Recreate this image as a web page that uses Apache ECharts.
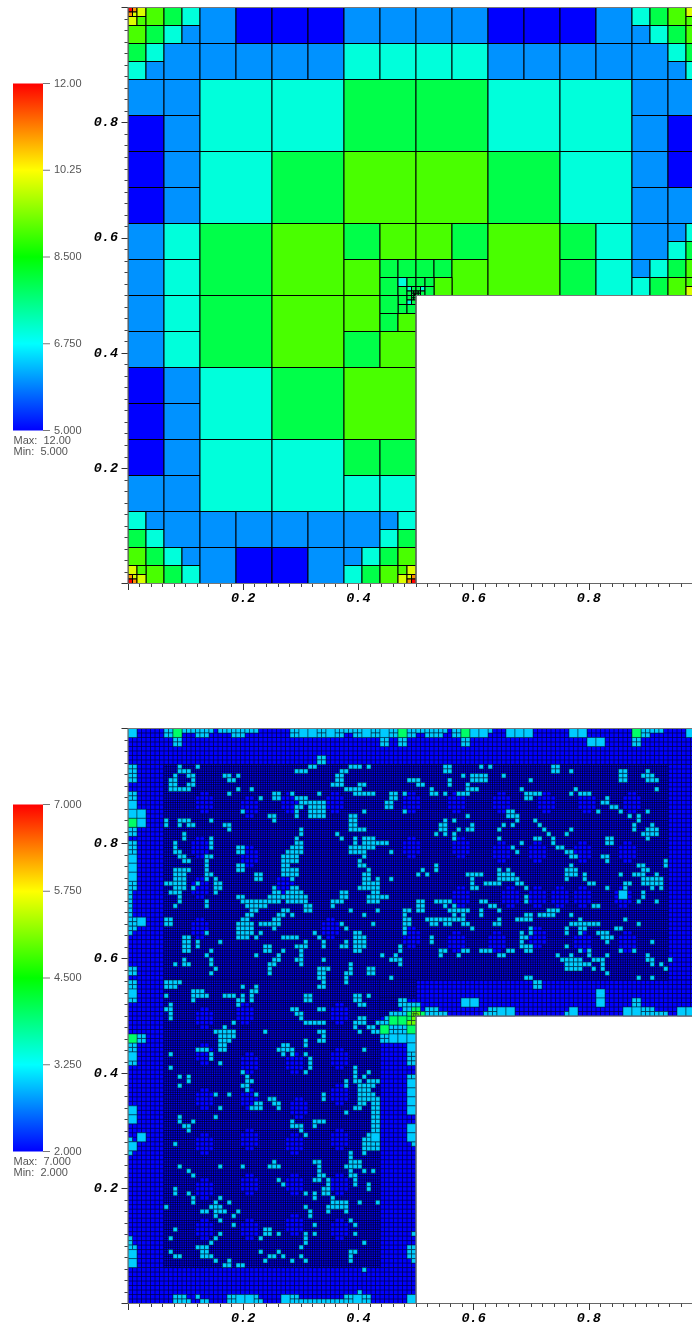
<!DOCTYPE html>
<html><head><meta charset="utf-8">
<style>html,body{margin:0;padding:0;background:#fff}#c{width:692px;height:1330px}</style>
<script src="https://cdn.jsdelivr.net/npm/echarts@6/dist/echarts.min.js"></script></head>
<body><div id="c"></div>
<script>
// ---- tick labels
const xTickLabels = ['0.2','0.4','0.6','0.8'];
const barLabelsA = ['5.000','6.750','8.500','10.25','12.00'];
const barLabelsB = ['2.000','3.250','4.500','5.750','7.000'];
const rangeA = [5,12];
const rangeB = [2,7];
const rainbow = [[0,0,255],[0,255,255],[0,255,0],[255,255,0],[255,0,0]];
const domainOutline = [[0,0],[.5,0],[.5,.5],[1,.5],[1,1],[0,1],[0,0]];
const meshDivisions = 128;
const xVisibleMax = 564/576;

// ---- upper field: mesh elements [column, row from top, size, value], in 1/128 units
const cellsA = [
[0,0,1,12],[1,0,1,11],[0,1,1,11],[1,1,1,10],[2,0,2,10],[0,2,2,10],[2,2,2,9],
[4,0,4,9],[0,4,4,9],[4,4,4,8],[8,0,4,8],[12,0,4,7],[8,4,4,7],[12,4,4,6],
[0,8,4,8],[4,8,4,7],[0,12,4,7],[4,12,4,6],[8,8,8,6],
[16,0,8,6],[24,0,8,5],[32,0,8,5],[40,0,8,5],[48,0,8,6],[56,0,8,6],[64,0,8,6],[72,0,8,6],[80,0,8,5],[88,0,8,5],[96,0,8,5],[104,0,8,6],
[16,8,8,6],[24,8,8,6],[32,8,8,6],[40,8,8,6],[48,8,8,7],[56,8,8,7],[64,8,8,7],[72,8,8,7],[80,8,8,6],[88,8,8,6],[96,8,8,6],[104,8,8,6],
[112,0,4,7],[116,0,4,8],[120,0,4,9],[124,0,2,10],[124,2,2,9],
[112,4,4,6],[116,4,4,7],[120,4,4,8],[124,4,4,9],
[112,8,8,6],[120,8,4,7],[124,8,4,8],[120,12,4,6],[124,12,4,7],
[0,16,8,6],[8,16,8,6],[0,24,8,5],[8,24,8,6],[0,32,8,5],[8,32,8,6],[0,40,8,5],[8,40,8,6],
[16,16,16,7],[32,16,16,7],[16,32,16,7],[32,32,16,8],
[48,16,16,8],[64,16,16,8],[80,16,16,7],[96,16,16,7],
[48,32,16,9],[64,32,16,9],[80,32,16,8],[96,32,16,7],
[112,16,8,6],[120,16,8,6],[112,24,8,6],[120,24,8,5],[112,32,8,6],[120,32,8,5],[112,40,8,6],[120,40,8,6],
[0,48,8,6],[8,48,8,7],[0,56,8,6],[8,56,8,7],[16,48,16,8],[32,48,16,9],
[48,48,8,8],[56,48,8,9],[64,48,8,9],[72,48,8,8],[48,56,8,9],
[56,56,4,8],[60,56,4,8],[64,56,4,8],[68,56,4,8],[72,56,8,9],[56,60,4,8],[68,60,4,9],
[60,60,2,7],[62,60,2,8],[60,62,2,8],[62,62,1,7],[63,62,1,8],[62,63,1,8],
[63,63,.5,8],[63.5,63,.5,8],[63,63.5,.5,8],[63.5,63.5,.25,8],[63.75,63.5,.25,8],[63.5,63.75,.25,8],[63.75,63.75,.25,8],
[64,60,2,8],[66,60,2,8],[64,62,1,8],[65,62,1,7],[64,63,.5,8],[64.5,63,.5,8],[64,63.5,.5,8],[64.5,63.5,.5,8],[65,63,1,8],[66,62,2,8],
[60,64,2,8],[62,64,1,8],[63,64,.5,8],[63.5,64,.5,8],[63,64.5,.5,8],[63.5,64.5,.5,8],[62,65,1,7],[63,65,1,8],[60,66,2,8],[62,66,2,8],
[80,48,16,9],[96,48,8,8],[104,48,8,7],[96,56,8,8],[104,56,8,7],
[112,48,8,6],[120,48,4,6],[124,48,4,7],[120,52,4,7],[124,52,4,8],
[112,56,4,6],[116,56,4,7],[120,56,4,8],[124,56,4,9],
[112,60,4,7],[116,60,4,8],[120,60,4,9],[124,60,2,9],[124,62,2,10],
[0,64,8,6],[8,64,8,7],[0,72,8,6],[8,72,8,7],[16,64,16,8],[32,64,16,9],
[48,64,8,9],[56,64,4,8],[56,68,4,8],[60,68,4,9],[48,72,8,8],[56,72,8,9],
[0,80,8,5],[8,80,8,6],[0,88,8,5],[8,88,8,6],[16,80,16,7],[32,80,16,8],[48,80,16,9],
[0,96,8,5],[8,96,8,6],[0,104,8,6],[8,104,8,6],[16,96,16,7],[32,96,16,7],[48,96,8,8],[56,96,8,8],[48,104,8,7],[56,104,8,7],
[0,112,4,7],[4,112,4,6],[0,116,4,8],[4,116,4,7],[8,112,8,6],[16,112,8,6],[24,112,8,6],[32,112,8,6],[40,112,8,6],[48,112,8,6],[56,112,4,6],[60,112,4,7],[56,116,4,7],[60,116,4,8],
[0,120,4,9],[4,120,4,8],[8,120,4,7],[12,120,4,6],[4,124,4,9],[8,124,4,8],[12,124,4,7],[16,120,8,6],[24,120,8,5],[32,120,8,5],[40,120,8,6],
[48,120,4,6],[52,120,4,7],[48,124,4,7],[52,124,4,8],[56,120,4,8],[60,120,4,9],[56,124,4,9],
[0,124,2,10],[2,124,2,9],[0,126,1,11],[1,126,1,10],[0,127,1,12],[1,127,1,11],[2,126,2,10],
[60,124,2,9],[62,124,2,10],[60,126,2,10],[62,126,1,10],[63,126,1,11],[62,127,1,11],[63,127,1,12]
];

// ---- lower field: background mesh zones [column, row, width, height, element size] at the base value
const baseValueB = 2;
const coarseZonesB = [[0,0,128,8,1],[0,8,8,112,1],[0,120,64,8,1],[56,64,8,56,1],[120,8,8,48,1],[64,56,64,8,1],[60,60,4,4,1]];
const fineZonesB = [[8,8,112,48,.5],[8,56,48,64,.5],[56,56,8,4,.5],[56,60,4,4,.5]];
// round patches of larger elements inside the fine zone [centre column, centre row]
const patchesB = [
[16.5,16.5],[26.7,17],[36,16.6],[45.6,16],[63.4,16.4],[73.4,16.6],[83,16.4],[92.7,16.6],[101.9,16.6],[111.5,16],
[16.4,26],[27,28],[63.4,26],[73.8,26.5],[82.7,27.2],[91.2,27],[101.2,27],[111.2,27],
[16,35],[34.5,34.4],[74,37.4],[84.9,37],[91,37],[96,37],[101,37],[110.4,37],
[16,44.8],[45,44.8],[63.4,46.6],[73.4,47],[82.3,47.4],[91.2,46.6],[101.2,47.4],[111.2,47.4],
[16.5,64],[26,63.7],[46.7,63.7],
[16.7,72.9],[26.7,74],[36.7,74],[46.7,73.3],
[16.7,82.9],[27.1,82.6],[37.5,84.8],[46.7,81.8],
[16.7,92.6],[26.7,91.8],[37.1,92.6],[46.7,91.8],
[16.9,102.2],[26.7,101.4],[37.1,101.4],[46.7,101.4],
[16.9,111],[26.7,111],[37.1,110.3],[46.7,111]
];
const patchRowWidths = [2,4,4,4,2];
// raised elements of value 3: [row, column, column, ...]
const raisedRowsB = [
[0,8,9,12,13,14,15,16,17,18,20,21,22,23,24,25,26,27,28,36,37,42,43,46,47,48,49,50,51,54,55,58,59,62,63,64,65,66,67,68,69,70,72,73,80,114,115,116,117,118],
[1,8,9,15,16,17,23,24,25,36,37,42,43,46,47,50,51,54,55,58,59,62,63,66,67,68,69,72,73,114,115],
[2,10,11,56,57,60,61,74,75,112,113],[3,10,11,56,57,60,61,74,75,112,113],
[6,42,43],[7,42,43],
[8,0,1,11,15,40,41,49,50,51,53,70,71,78,80,94,95],
[9,0,1,11,12,13,37,38,39,47,48,70,71,94,95,98,109,110,115],
[10,0,1,10,13,14,21,22,24,46,47,74,76,77,78,79,83,109,110,114,115,116],
[11,0,1,9,10,14,22,23,46,47,62,63,64,71,76,77,78,79,89,109,110,115,116,117],
[12,9,10,13,14,45,46,47,51,52,64,65,71,75],
[13,9,10,11,12,13,24,27,48,49,50,51,67,75,76,77,87,99,117],
[14,0,1,22,32,33,36,42,50,51,52,53,54,58,59,61,67,68,70,73,74,75,88,89,90,91,98,100,101,102],
[15,0,1,29,32,33,37,38,39,58,59,88,89,106],
[16,38,39,40,41,42,43,57,58,105,106],
[17,37,38,40,41,42,43,57,58,107,108],
[18,25,37,40,41,42,43,52,61,84,85,104,109,115],
[19,31,32,37,40,41,42,43,49,50,75,84,85,86,111,113],
[20,8,11,12,13,18,32,49,50,70,72,86,90,113],
[21,8,11,13,14,21,22,49,50,69,70,76,83,85,91,112,116],
[22,0,1,22,38,49,50,51,52,69,70,73,75,76,82,92,98,112,115,116,117],
[23,0,1,12,38,46,68,70,72,93,97,114,115,116,117],
[24,12,18,37,47,50,52,53,54,72,82,90,91,94,106,107,115],
[25,0,1,10,18,37,38,50,52,53,54,55,56,57,87,94,106,107],
[26,0,1,10,18,24,25,36,37,38,49,50,51,52,53,54,85,95,96],
[27,0,1,10,11,24,25,35,36,37,38,49,50,51,52,58,86,97,98],
[28,11,12,17,18,34,35,36,37,52,98,99,105,106],
[29,12,13,17,34,35,36,37,51,106,119],
[30,17,24,25,34,35,51,52,68,98,113,114,119],
[31,10,11,12,13,17,24,25,34,35,36,37,53,65,68,82,84,97,98,99,114,115],
[32,10,11,12,17,18,28,29,34,35,36,37,52,53,64,66,75,76,77,78,82,83,84,85,97,98,99,101,109,112,113,114,117],
[33,10,11,12,17,19,28,29,36,52,53,55,58,76,82,83,84,85,86,97,101,114,115,116,117,118],
[34,0,1,8,9,10,11,12,15,19,20,52,53,54,55,76,79,80,81,82,86,87,102,103,110,111,114,115,116,117,118],
[35,0,1,10,11,12,14,19,20,32,36,37,51,52,53,54,55,76,77,88,106,110,116,118],
[36,0,9,10,11,19,32,33,35,36,37,38,47,48,54,55,114],
[37,0,11,24,25,31,32,33,34,35,36,37,38,39,47,48,53,54,55,56,57,88,114],
[38,0,11,17,25,26,27,28,29,30,31,32,33,35,36,37,38,39,45,46,47,53,54,55,64,65,68,69,70,71,78,79,88,113,117],
[39,0,10,17,26,27,28,29,30,39,40,45,64,65,70,72,80,81,103,104],
[40,0,27,28,34,35,39,40,49,55,61,62,64,65,71,72,73,74,75,78,82,93,94,95],
[41,0,26,27,33,34,36,52,61,72,74,78,88,89,91,92,93,94,98],
[42,0,1,8,9,25,26,32,33,61,62,66,67,68,69,70,71,72,73,74,82,86,87,88,89,100,110],
[43,0,1,8,9,24,25,26,27,29,30,31,32,33,47,54,61,62,67,68,70,71,74,75,81,82,98,99,100,101,102,103,104,113],
[44,0,1,24,25,26,27,32,48,61,76,89,97,100,101,108,109],
[45,0,17,24,25,26,27,29,41,50,51,61,87,89,97,100,104,105,106],
[46,12,13,24,25,26,28,34,35,36,37,42,50,51,52,67,87,88,105,106,107],
[47,12,13,15,20,39,43,48,50,51,52,67,87,106,116],
[48,12,13,15,30,31,37,38,39,43,47,48,50,51,52,60,87,88,89,97],
[49,12,13,18,30,31,34,38,50,51,60,69,70,74,75,78,79,80,84,85,88,89,100,102,109,112],
[50,17,28,33,38,56,59,69,73,82,83,95,98,102,106,115],
[51,12,18,32,33,37,38,43,58,59,60,96,97,98,99,100,103,104,105,115,116,120],
[52,10,12,13,18,31,32,38,49,60,97,98,99,100,101,102,105,116,118],
[53,0,1,19,31,42,43,44,49,53,54,97,98,99,100,103,105,119],
[54,0,1,18,31,42,43,48,49,53,54,106],
[55,42,43,48,58,88,89,113,116],
[56,0,1,8,9,10,11,43,48,90,91],
[57,0,1,8,9,10,25,28,42,43,90,91],
[58,14,15,16,27,28],
[59,8,14,15,16,17,21,22,23,25,27,39,40,50,51,53],
[60,0,1,14,24,25,27,39,40,50,51,60,61,112,113],
[61,9,24,51,52,60,61,62,63,64,112,113],
[62,8,9,36,37,42,43,61,62,66,67,68,80,81,114,115,116],
[63,9,37,38,58,59,60,61,62,66,67,68,69,70,79,80,81,97,114,115,116,117,118,119],
[64,9,38,51,52,57],
[65,23,39,40,41,42,43,50,51,52,55,56,57],
[66,21,50,53,54,58,59,60,61],
[67,19,20,21,22,23,30,42,43,51,54,55,58,59,60,61],
[68,2,3,20,21,22,23,43,56,57],
[69,2,3,20,21,22,39,42,43,56,57],
[70,0,1,20,21,34,35,39],
[71,0,1,15,16,17,20,21,33,34,35,36,52],
[72,9,18,34,36,39,62,63],
[73,18,40,62,63],
[74,0,1,20,40,62,63],
[75,9,40,50],
[76,25,39,50,53],
[77,11,13,26,50,52,62,63],
[78,13,26,27,48,50,51,53,54,55],
[79,11,25,26,48,51,52,53,54],
[80,26,51,52,53],
[81,19,22,28,43,51,52,53,54],
[82,31,32,43,51,52,53,54,55],
[83,28,29,32,33,51,52,54,55],
[84,20,27,28,29,33,50,51,54,55],
[85,48,54,55],
[86,11,19,54,55],
[87,11,14,36,41,42,43,54,55],
[88,12,13,36,37,38,41,54,55],
[89,13,38,54,55],
[90,39,53],
[91,0,52,53],
[92,10,52,53,54,55,63],
[93,52,53,54,55],
[94,0,49,52],
[95,49],
[96,32,41,42,49,50,51],
[97,11,20,25,31,32,33,42,48,49,50,51],
[98,13,42,49,52,54],
[99,14,42,43,49,50],
[100,33,41,42,44,50],
[101,34,44,50,53],
[102,10,43,44,53],
[103,10,13,39,41,43,44],
[104,14,20,41,45],
[105,14,19,22,45,46,47,48,51,55],
[106,8,18,19,20,39,44,45,46,47,48],
[107,16,17,19,20,21,24,40,44,48],
[108,19,23,40],
[109,20,49],
[110,23,41,50],
[111,10,30,31],
[112,20,30,31,33,39,41,50,63],
[113,0,9,19,29,39],
[114,0,18,39,52],
[115,0,1,15,16,17,38,62,63],
[116,9,16,17,29,33,49,50,62,63],
[117,10,11,16,17,18,31,32,34,38,49,62,63],
[118,19,22,30,36,39,49,63],
[119,21,22,24,25],
[120,52],
[125,51],
[126,10,11,12,15,22,23,28,36,37,48,49,52,53],
[127,10,11,12,13,16,17,22,23,28,29,36,37,38,39,40,41,42,43,44,45,46,47,48,49,52,53]
];
// larger and strong elements [column, row, size, value]
const strongCellsB = [
[0,0,2,3],[10,0,2,4],[38,0,2,3],[40,0,2,3],[44,0,2,3],[52,0,2,3],[56,0,2,3],[60,0,2,4],[74,0,2,4],[76,0,2,3],[78,0,2,3],
[84,0,2,3],[86,0,2,3],[88,0,2,3],[98,0,2,3],[100,0,2,3],[102,2,2,3],[104,2,2,3],[112,0,2,4],[124,0,2,3],
[0,16,2,3],[0,18,2,3],[2,18,2,3],[0,20,2,4],[2,20,2,3],[0,28,2,3],[0,30,2,3],[0,32,2,3],
[2,42,2,3],[109,36,2,3],[74,60,2,3],[76,60,2,3],[104,58,2,3],[104,60,2,3],
[82,62,2,3],[84,62,2,3],[98,62,2,3],[110,62,2,3],[112,62,2,3],[122,62,2,3],[124,62,2,3],
[58,64,2,4],[60,64,2,4],[56,66,2,4],[62,66,2,4],
[58,68,2,3],[60,68,2,3],[62,68,2,3],[62,70,2,3],[0,58,2,3],[0,68,2,4],[0,72,2,3],
[62,78,2,3],[62,80,2,3],[62,82,2,3],[62,84,2,3],[0,84,2,3],[0,86,2,3],[62,88,2,3],[62,90,2,3],
[54,90,2,3],[2,90,2,3],[0,92,2,3],[0,116,2,3],[0,118,2,3],
[24,126,2,3],[26,126,2,3],[34,126,2,3],[50,126,2,3],[62,126,2,3],
[62,64,1,4],[63,64,1,5],[62,65,1,5],[63,65,1,5],[63,63,1,5],[62,63,1,4],[63,62,1,4],[64,62,1,4],[64,63,1,5],[65,63,1,4],
[63.5,63,.5,5],[63,63.5,.5,5],[63.5,63.5,.5,5],[64,63.5,.5,5]
];

// ---- helpers
function rgbOf(v, range){
  const t = Math.max(0, Math.min(1, (v-range[0])/(range[1]-range[0]))) * (rainbow.length-1);
  const k = Math.min(rainbow.length-2, Math.floor(t)), f = t-k;
  const a = rainbow[k], b = rainbow[k+1];
  return 'rgb('+a.map((c,n)=>Math.round(c+(b[n]-c)*f)).join(',')+')';
}
const toData = c => [c[0]/meshDivisions, 1-c[1]/meshDivisions, c[2]/meshDivisions, c[3]];

const patchCellsB = [];
patchesB.forEach(p=>{
  patchRowWidths.forEach((w,r)=>{
    const j0 = Math.round(p[1]-patchRowWidths.length/2)+r;
    const i0 = Math.round(p[0]-w/2);
    for(let k=0;k<w;k++) patchCellsB.push([i0+k,j0,1,baseValueB]);
  });
});
const raisedCellsB = [];
raisedRowsB.forEach(r=>r.slice(1).forEach(i=>raisedCellsB.push([i,r[0],1,3])));

function cellSeries(cells, range, gridIndex, z, stroke, lineWidth){
  return {
    type:'custom', xAxisIndex:gridIndex, yAxisIndex:gridIndex, z, silent:true, animation:false, progressive:0,
    clip:true, data:cells.map(toData),
    renderItem(params, api){
      const x=api.value(0), y=api.value(1), s=api.value(2), v=api.value(3);
      const a=api.coord([x,y]), b=api.coord([x+s,y-s]);
      return {type:'rect', shape:{x:a[0],y:a[1],width:b[0]-a[0],height:b[1]-a[1]},
        style:{fill:rgbOf(v,range), stroke, lineWidth}};
    }
  };
}
function zoneSeries(zones, gridIndex, z, fill, stroke, lineWidth){
  return {
    type:'custom', xAxisIndex:gridIndex, yAxisIndex:gridIndex, z, silent:true, animation:false, progressive:0,
    clip:true,
    data:zones.map(q=>[q[0]/meshDivisions, 1-q[1]/meshDivisions, q[2]/meshDivisions, q[3]/meshDivisions, q[4]/meshDivisions]),
    renderItem(params, api){
      const x=api.value(0), y=api.value(1), w=api.value(2), h=api.value(3), c=api.value(4);
      const a=api.coord([x,y]), b=api.coord([x+w,y-h]);
      const children=[{type:'rect', shape:{x:a[0],y:a[1],width:b[0]-a[0],height:b[1]-a[1]}, style:{fill}}];
      const nx=Math.round(w/c), ny=Math.round(h/c);
      for(let k=0;k<=nx;k++){const p=api.coord([x+k*c,y]); children.push({type:'line',shape:{x1:p[0],y1:a[1],x2:p[0],y2:b[1]},style:{stroke,lineWidth}});}
      for(let k=0;k<=ny;k++){const p=api.coord([x,y-k*c]); children.push({type:'line',shape:{x1:a[0],y1:p[1],x2:b[0],y2:p[1]},style:{stroke,lineWidth}});}
      return {type:'group', children};
    }
  };
}
function outlineSeries(gridIndex){
  return {type:'line', xAxisIndex:gridIndex, yAxisIndex:gridIndex, z:9, silent:true, animation:false, symbol:'none',
    clip:false, data:domainOutline, lineStyle:{color:'#777', width:1.2}};
}
function barSeries(gridIndex){
  return {type:'custom', xAxisIndex:gridIndex, yAxisIndex:gridIndex, silent:true, animation:false, z:2, clip:false,
    data:[[0,0,1,4]],
    renderItem(params, api){
      const a=api.coord([api.value(0),api.value(3)]), b=api.coord([api.value(2),api.value(1)]);
      const children=[{type:'rect', shape:{x:a[0],y:a[1],width:b[0]-a[0],height:b[1]-a[1]},
        style:{fill:new echarts.graphic.LinearGradient(0,1,0,0,rainbow.map((c,n)=>({offset:n/(rainbow.length-1),color:'rgb('+c.join(',')+')'})))}}];
      for(let k=0;k<rainbow.length;k++){
        const p=api.coord([1,k]);
        children.push({type:'line',shape:{x1:p[0],y1:p[1],x2:p[0]+7,y2:p[1]},style:{stroke:'#777',lineWidth:1}});
      }
      return {type:'group',children};
    }};
}

const plotFont = {fontFamily:'"Liberation Mono"', fontWeight:'bold', fontStyle:'italic', fontSize:13.5, color:'#000'};
const plotLabel = {...plotFont, formatter:v=>{const s=v.toFixed(1); return xTickLabels.includes(s)?s:'';}};
function plotAxis(gridIndex, isX){
  return {type:'value', gridIndex, min:0, max:isX?xVisibleMax:1, interval:.2, position:isX?'bottom':'left',
    axisLine:{show:true, onZero:false, lineStyle:{color:'#666',width:1.2}},
    axisTick:{show:true, length:6.5, inside:false, lineStyle:{color:'#333',width:1}},
    minorTick:{show:true, splitNumber:10, length:3.5, lineStyle:{color:'#444',width:1}},
    splitLine:{show:false}, axisLabel:{...plotLabel, margin:isX?8:10, showMinLabel:false, showMaxLabel:false}};
}
function barXAxis(gridIndex){return {type:'value', gridIndex, min:0, max:1, show:false};}
function barYAxis(gridIndex, labels){
  return {type:'value', gridIndex, min:0, max:4, interval:1, position:'right',
    axisLine:{show:false, onZero:false}, axisTick:{show:false}, splitLine:{show:false},
    axisLabel:{margin:11, color:'#555', fontFamily:'"Liberation Sans"', fontSize:11, formatter:(v)=>labels[Math.round(v)]}};
}
const rangeText = (t,top)=>({type:'text', left:13.5, top, silent:true, z:20,
  style:{text:t, fill:'#555', font:'11px "Liberation Sans"'}});

const chart = echarts.init(document.getElementById('c'), null, {renderer:'canvas', width:692, height:1330});
chart.setOption({
  animation:false, backgroundColor:'#fff',
  grid:[
    {left:128, top:7.5, width:564, height:576},
    {left:128, top:728.5, width:564, height:575},
    {left:13, top:83.5, width:30, height:347},
    {left:13, top:804.5, width:30, height:347}
  ],
  xAxis:[plotAxis(0,true), plotAxis(1,true), barXAxis(2), barXAxis(3)],
  yAxis:[plotAxis(0,false), plotAxis(1,false), barYAxis(2,barLabelsA), barYAxis(3,barLabelsB)],
  graphic:[rangeText('Max:  12.00',435.5),rangeText('Min:  5.000',446.5),rangeText('Max:  7.000',1156.5),rangeText('Min:  2.000',1167.5)],
  series:[
    cellSeries(cellsA, rangeA, 0, 2, '#000', 1),
    outlineSeries(0),
    zoneSeries(coarseZonesB, 1, 2, rgbOf(baseValueB,rangeB), 'rgba(0,0,70,0.72)', 1),
    zoneSeries(fineZonesB, 1, 3, rgbOf(baseValueB,rangeB), 'rgba(0,0,30,0.68)', 1),
    cellSeries(patchCellsB, rangeB, 1, 4, 'rgba(0,0,70,0.65)', 1),
    cellSeries(raisedCellsB, rangeB, 1, 5, 'rgba(0,30,50,0.55)', 1),
    cellSeries(strongCellsB, rangeB, 1, 6, 'rgba(0,30,50,0.5)', 1),
    outlineSeries(1),
    barSeries(2), barSeries(3)
  ]
});
</script></body></html>
